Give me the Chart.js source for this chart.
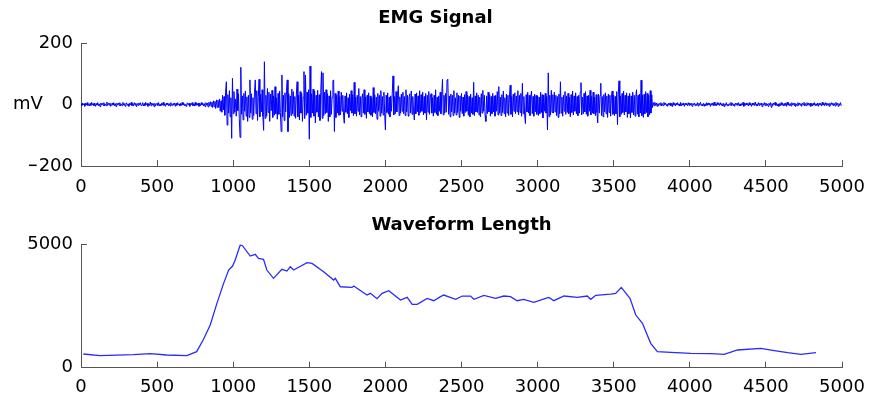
<!DOCTYPE html>
<html>
<head>
<meta charset="utf-8">
<script src="https://cdn.jsdelivr.net/npm/chart.js@4.4.1/dist/chart.umd.min.js"></script>
<style>
  html, body { margin: 0; padding: 0; background: #fff; }
  #wrap { position: relative; width: 873px; height: 401px; }
  canvas { position: absolute; left: 0; }
  #emg { top: 0; }
  #wl { top: 200px; }
</style>
</head>
<body>
<div id="wrap">
  <canvas id="emg" width="873" height="200"></canvas>
  <canvas id="wl" width="873" height="201"></canvas>
</div>
<script>
// raw EMG, one value every 5 samples (mV), 20 values per row = 100 samples
const emgStep = 5;
const emgValue = [
  2,-4,5,-1,3,-6,4,-2,6,-3,1,-5,4,-3,7,-2,3,-4,5,-6,
  3,-2,6,-4,2,-7,5,-1,4,-3,6,-5,2,-4,8,-3,4,-2,5,-6,
  -3,5,-2,6,-4,3,-7,4,-1,5,-3,6,-5,2,-4,7,-2,3,-6,4,
  5,-3,2,-6,4,-1,7,-4,3,-5,6,-2,4,-7,3,-3,5,-1,6,-4,
  -2,6,-5,3,-4,7,-1,4,-6,2,-3,8,-4,5,-2,3,-7,4,-5,2,
  4,-3,6,-5,1,-4,5,-2,7,-3,2,-6,4,-1,5,-4,3,-5,6,-2,
  -4,3,-2,5,-6,4,-3,6,-1,2,-5,4,-3,7,-2,5,-4,1,-6,3,
  5,-2,4,-6,3,-1,6,-4,2,-5,7,-3,4,-2,5,-6,3,-4,6,-1,
  4,-5,3,-7,6,-2,5,-8,7,-4,9,-6,8,-10,12,-7,10,-13,15,-9,
  14,-10,18,-22,12,-25,30,-18,26,-35,40,74,-67,32,-28,45,-40,22,-110,85,
  -30,42,-25,18,-38,50,-20,35,-45,-107,121,-32,28,-50,36,-22,44,-38,25,-55,
  30,-42,80,-28,35,-48,22,-36,40,80,-30,45,-52,26,82,-40,33,-24,48,-38,
  -84,139,-45,30,-38,52,-26,40,-55,34,-20,46,-42,28,-35,58,-30,22,-48,36,
  -32,44,-26,-88,96,-40,30,-52,38,-24,45,80,-88,35,-42,28,-36,50,-30,42,
  -38,26,-45,34,74,-40,30,-50,42,-28,36,-55,24,107,-46,96,-35,40,-28,48,
  -113,125,-42,35,-28,50,-38,44,-60,30,-25,46,-40,32,-52,38,107,-45,103,-36,
  40,-30,48,-26,35,-55,28,-40,45,-32,24,77,80,-88,36,-42,30,-28,44,-35,
  26,-34,40,-22,30,-36,-61,28,-25,38,-30,22,-42,34,-20,45,-28,32,-36,72,
  -30,24,-38,30,-22,52,-34,26,-40,20,35,-28,48,-32,25,-45,30,-24,38,-30,
  28,-35,22,-40,55,-26,32,-30,24,-48,36,-22,30,-38,45,-28,26,-34,40,-25,
  -83,30,-26,38,-32,24,-40,28,-22,36,93,-34,26,-30,42,-24,30,61,-36,25,
  -28,34,-22,40,-30,26,-36,48,-24,30,-38,22,35,-28,44,-32,26,-20,-50,34,
  -30,38,-24,28,-35,45,-26,32,-22,40,-34,26,-28,36,-50,30,-25,42,-32,24,
  35,-28,22,-38,30,-26,48,-32,24,-36,28,-22,40,-30,26,82,-34,30,-28,36,
  -25,80,82,-32,28,-40,34,-24,30,-36,45,-28,22,-34,38,-26,30,-42,28,-22,
  36,-30,24,-38,32,-26,42,-22,30,-35,26,-40,34,-28,22,-32,72,-36,28,-24,
  38,-26,30,-34,24,-40,35,-28,46,-22,30,-36,-55,28,-30,40,-24,32,-38,26,
  -30,36,-24,28,-38,30,-22,42,-34,58,-28,24,-36,32,-26,44,-30,22,-40,34,
  -28,30,-36,24,63,-32,26,-40,34,-22,38,-30,28,-24,45,-34,30,-26,36,-38,
  69,-30,26,-34,-62,32,-24,40,-28,30,-36,22,44,-30,26,-38,34,-24,30,-32,
  28,-36,24,-30,40,-26,32,-44,30,-22,36,-28,26,-83,103,-40,30,-34,46,-26,
  32,-28,40,-24,30,-36,26,-42,34,-30,74,-28,24,-38,30,-22,42,-32,28,-26,
  36,-30,24,-40,32,-26,44,-34,28,-22,38,-30,26,-36,30,-28,40,71,-34,24,
  -30,36,-24,42,-32,28,-38,30,-22,46,-34,26,-28,40,-30,24,-36,32,-26,-60,
  34,-28,30,69,-36,26,-40,32,-24,38,-30,28,-42,34,-26,30,-38,24,44,-32,
  30,-36,26,-30,42,-66,34,77,-40,28,-32,36,-26,44,-34,30,-24,38,-42,28,
  -30,36,-44,28,-26,40,-34,30,-38,26,48,-32,30,-40,34,-28,79,-36,30,-42,
  34,-30,42,-26,36,-40,30,-34,45,-28,32,-10,6,-4,7,-3,5,-6,3,-5,
  4,-2,6,-5,3,-4,7,-1,5,-3,2,-6,4,-2,5,-4,3,-7,6,-2,
  3,-5,4,-1,6,-3,2,-5,7,-4,3,-2,5,-6,4,-1,3,-4,6,-3,
  5,-2,4,-6,3,-1,5,-4,2,-3,6,-5,4,-2,7,-3,1,-5,4,-6,
  2,-4,6,-3,5,-1,4,-6,3,-2,5,-4,8,-3,2,-5,6,-1,4,-3,
  6,-2,3,-5,4,-7,2,-3,6,-4,1,-5,3,-2,7,-4,5,-3,2,-6,
  4,-1,5,-3,6,-5,2,-4,3,-2,7,-6,4,-3,5,-1,3,-5,6,-2,
  3,-6,4,-2,5,-3,8,-4,2,-5,6,-3,4,-1,5,-7,3,-2,6,-4,
  5,-3,2,-6,4,-2,6,-9,3,-4,5,-1,7,-3,4,-5,2,-6,3,-4,
  6,-2,4,-5,3,-3,5,-6,8,-2,4,-4,3,-5,6,-1,4,-3,5,-7,
  2,-4,6,-3,5,-2,3,-6,4,-1,7,-5,3,-4,6,-2,5,-3,4,-6,
  3,-5,4,-2,6,-4,2,-3,5,-6,4,-1,3,-5,7,-2,4,-4,6,-3,
  5,-2,3,-6,4,-3,6,-1,5,-4,3,-5,7,-2,4,-6,3,-3,6,-4
];

// waveform length feature
const wlSample = [15,125,345,455,563,695,760,805,849,893,937,970,996,1013,1046,1061,1112,1145,1166,1199,
  1221,1265,1320,1353,1375,1397,1485,1518,1594,1660,1671,1704,1781,1792,1879,1901,1945,1978,2022,2099,
  2143,2176,2209,2274,2318,2362,2384,2461,2505,2559,2582,2647,2724,2778,2822,2866,2909,2975,3053,3074,
  3107,3173,3261,3326,3349,3382,3480,3513,3550,3607,3645,3689,3743,3787,3875,4007,4138,4226,4314,4467,
  4555,4643,4730,4829];
const wlValue = [555,487,527,567,514,487,650,1150,1730,2608,3418,3957,4119,4362,4970,4942,4524,4592,4430,4390,
  3957,3620,3985,3916,4090,3957,4254,4227,3888,3552,3620,3280,3254,3308,2944,3013,2795,3013,3120,2742,
  2850,2566,2566,2810,2715,2877,2944,2770,2904,2904,2770,2932,2810,2904,2877,2715,2770,2648,2810,2850,
  2715,2904,2850,2904,2770,2932,2985,3013,3254,2810,2134,1797,988,650,622,582,568,541,717,784,
  690,608,541,608];

const xTicks = [0, 500, 1000, 1500, 2000, 2500, 3000, 3500, 4000, 4500, 5000];
const emgTicks = [-200, 0, 200];
const wlTicks = [0, 5000];

const tickFont = { family: 'DejaVu Sans', size: 18 };
const titleFont = { family: 'DejaVu Sans', size: 18, weight: 'bold' };
const axisGray = '#555';

function fmt(v) {
  return v < 0 ? '\u2212' + Math.abs(v) : String(v);
}

function xScale(pad) {
  return {
    type: 'linear', min: 0, max: 5000,
    afterBuildTicks: s => { s.ticks = xTicks.map(v => ({ value: v })); },
    afterFit: s => {
      s.height = pad.h;
      // end labels may hang past the plot, the layout padding already leaves room
      s.paddingLeft = 0;
      s.paddingRight = 0;
    },
    ticks: { font: tickFont, color: '#000', padding: pad.p, maxRotation: 0, callback: fmt },
    grid: { drawOnChartArea: false, drawTicks: true, tickLength: -6, tickColor: axisGray },
    border: { color: axisGray, width: 1 }
  };
}

function yScale(min, max, list, w) {
  return {
    min: min, max: max,
    afterBuildTicks: s => { s.ticks = list.map(v => ({ value: v })); },
    afterFit: s => { s.width = w; },
    ticks: { font: tickFont, color: '#000', padding: 14, callback: fmt },
    grid: { drawOnChartArea: false, drawTicks: true, tickLength: -6, tickColor: axisGray },
    border: { color: axisGray, width: 1 }
  };
}

// "mV" unit written level with the zero line
const unitLabel = {
  id: 'unitLabel',
  afterDraw(chart) {
    const ctx = chart.ctx;
    const y = chart.scales.y.getPixelForValue(0);
    ctx.save();
    ctx.font = '18px "DejaVu Sans"';
    ctx.fillStyle = '#000';
    ctx.textAlign = 'center';
    ctx.textBaseline = 'middle';
    ctx.fillText('mV', 28, y);
    ctx.restore();
  }
};

new Chart(document.getElementById('emg'), {
  type: 'line',
  data: {
    datasets: [{
      data: emgValue.map((v, i) => ({ x: i * emgStep, y: v })),
      borderColor: '#0000ff',
      borderWidth: 1,
      pointRadius: 0,
      tension: 0
    }]
  },
  options: {
    responsive: false,
    animation: false,
    devicePixelRatio: 1,
    layout: { padding: { left: 29, right: 31, top: 0, bottom: 0 } },
    plugins: {
      legend: { display: false },
      tooltip: { enabled: false },
      title: { display: true, text: 'EMG Signal', font: titleFont, color: '#000', padding: { top: 7.7, bottom: 13.7 } }
    },
    scales: {
      x: xScale({ h: 34, p: 17 }),
      y: yScale(-200, 200, emgTicks, 52)
    }
  },
  plugins: [unitLabel]
});

new Chart(document.getElementById('wl'), {
  type: 'line',
  data: {
    datasets: [{
      data: wlSample.map((s, i) => ({ x: s, y: wlValue[i] })),
      borderColor: '#2a2aff',
      borderWidth: 1.3,
      pointRadius: 0,
      tension: 0
    }]
  },
  options: {
    responsive: false,
    animation: false,
    devicePixelRatio: 1,
    layout: { padding: { left: 0, right: 31, top: 0, bottom: 0 } },
    plugins: {
      legend: { display: false },
      tooltip: { enabled: false },
      title: { display: true, fullSize: false, text: 'Waveform Length', font: titleFont, color: '#000', padding: { top: 14.7, bottom: 8 } }
    },
    scales: {
      x: xScale({ h: 33.3, p: 15 }),
      y: yScale(0, 5000, wlTicks, 81)
    }
  }
});
</script>
</body>
</html>
